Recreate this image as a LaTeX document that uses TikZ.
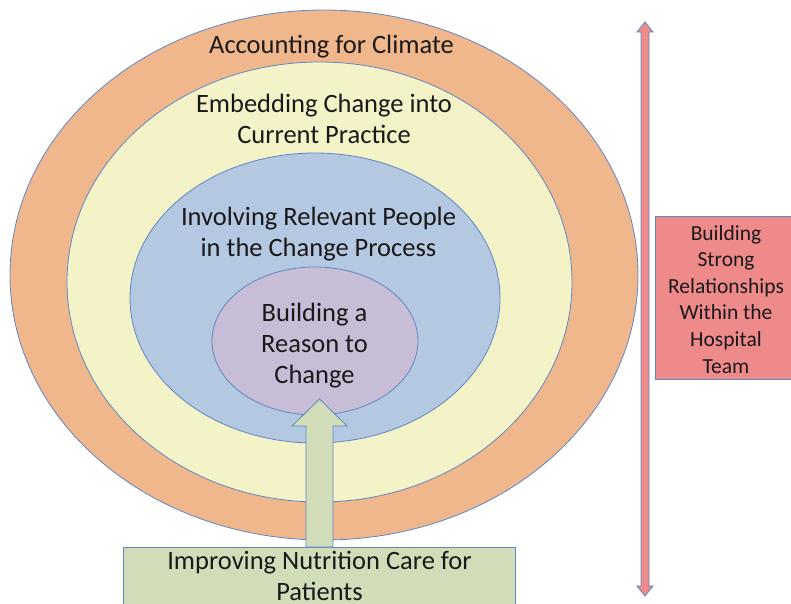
\documentclass[tikz,border=0pt]{standalone}
\usepackage{fontspec}
\setmainfont{Carlito}
\usetikzlibrary{shapes.geometric,calc}
\definecolor{ringorange}{RGB}{241,183,140}
\definecolor{ringyellow}{RGB}{244,243,200}
\definecolor{ringblue}{RGB}{181,200,226}
\definecolor{ringpurple}{RGB}{199,189,215}
\definecolor{boxgreen}{RGB}{209,221,184}
\definecolor{boxpink}{RGB}{238,138,138}
\definecolor{edgeblue}{RGB}{95,135,195}
\tikzset{
  ring/.style={ellipse, draw=edgeblue, line width=0.8pt, inner sep=0pt},
  label/.style={font=\fontsize{26.5}{31}\selectfont, align=center, anchor=base, inner sep=0pt, text=black!90},
  sidelabel/.style={font=\fontsize{21.5}{26.6}\selectfont, align=center, anchor=base, inner sep=0pt, text=black!90},
  blockbox/.style={draw=edgeblue, line width=0.8pt},
}
\begin{document}
\begin{tikzpicture}[x=1pt, y=-1pt]
\useasboundingbox (0,0) rectangle (791,603);
\clip (0,0) rectangle (791,603);

% nested rings
\node[ring, fill=ringorange, minimum width=628pt, minimum height=530pt] (climate) at (324,275) {};
\node[ring, fill=ringyellow, minimum width=505pt, minimum height=440pt] (embed) at (319.5,282) {};
\node[ring, fill=ringblue, minimum width=370pt, minimum height=290pt] (involve) at (315,298) {};
\node[ring, fill=ringpurple, minimum width=206pt, minimum height=148pt] (reason) at (315,341) {};

% ring labels (base anchor = baseline of the last line)
\node[label] (tclimate) at (331.5,53) {Accounting for Climate};
\node[label] (tembed) at (324,143) {Embedding Change into\\Current Practice};
\node[label] (tinvolve) at (318.5,256) {Involving Relevant People\\in the Change Process};
\node[label] (treason) at (314.5,383) {Building a\\Reason to\\Change};

% bottom box
\node[blockbox, fill=boxgreen, minimum width=392pt, minimum height=80pt, anchor=north west, inner sep=0pt] (nutrition) at (123,547) {};
\node[label] (tnutrition) at (319.5,600) {Improving Nutrition Care for\\Patients};

% block arrow from the bottom box into the centre ring
\coordinate (tip) at (319.5,399);
\draw[blockbox, fill=boxgreen, line join=miter]
  ($(nutrition.north -| tip)+(-13.5,0)$) -- ++(0,-121) -- ++(-14,0) -- (tip)
  -- ($(nutrition.north -| tip)+(27.5,-121)$) -- ++(-14,0) -- ($(nutrition.north -| tip)+(13.5,0)$) -- cycle;

% side box
\node[blockbox, fill=boxpink, minimum width=142pt, minimum height=163pt, anchor=north west, inner sep=0pt] (team) at (655,216) {};
\node[sidelabel] (tteam) at (726,373) {Building\\Strong\\Relationships\\Within the\\Hospital\\Team};

% vertical double arrow
\coordinate (up) at (645,22);
\coordinate (down) at (645,596);
\draw[blockbox, fill=boxpink, line join=miter]
  (up) -- ($(up)+(8,10)$) -- ($(up)+(4,10)$) -- ($(down)+(4,-10)$) -- ($(down)+(8,-10)$) -- (down)
  -- ($(down)+(-8,-10)$) -- ($(down)+(-4,-10)$) -- ($(up)+(-4,10)$) -- ($(up)+(-8,10)$) -- cycle;
\end{tikzpicture}
\end{document}
